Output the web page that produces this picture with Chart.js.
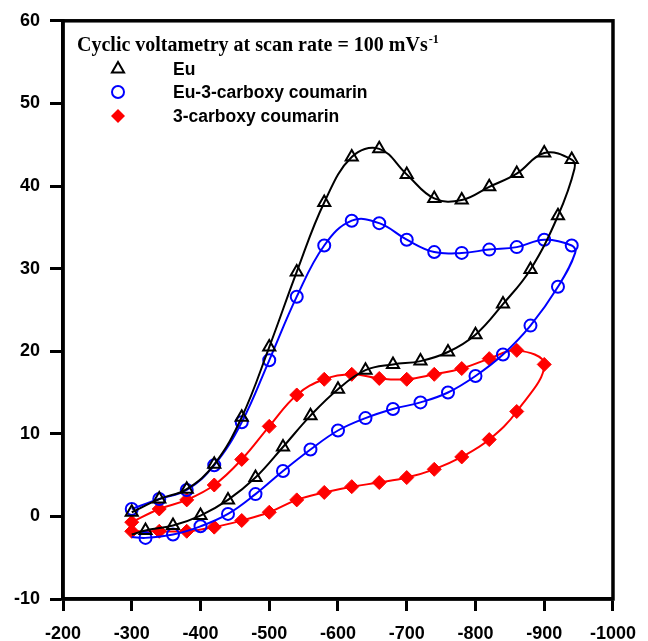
<!DOCTYPE html>
<html>
<head>
<meta charset="utf-8">
<script src="https://cdn.jsdelivr.net/npm/chart.js@4.4.1/dist/chart.umd.min.js"></script>
<style>
  html, body { margin: 0; padding: 0; background: #fff; }
</style>
</head>
<body>
<canvas id="cvChart" width="648" height="641"></canvas>
<script>
// Potential (mV) and current, in scan order
const euPotential = [-300, -340, -380, -420, -460, -500, -540, -580, -620, -660, -700, -740, -780, -820, -860, -900, -940, -944,
                     -920, -880, -840, -800, -760, -720, -680, -640, -600, -560, -520, -480, -440, -400, -360, -320, -300];
const euCurrent = [0.5, 2.1, 3.3, 6.3, 12.0, 20.5, 29.6, 38.0, 43.5, 44.5, 41.4, 38.5, 38.3, 39.9, 41.5, 44.0, 43.2, 42.1,
                   36.4, 29.9, 25.7, 22.0, 19.9, 18.8, 18.4, 17.7, 15.4, 12.2, 8.4, 4.7, 2.0, 0.1, -1.1, -1.7, -2.2];

const euCoumPotential = [-300, -340, -380, -420, -460, -500, -540, -580, -620, -660, -700, -740, -780, -820, -860, -900, -940, -945,
                         -920, -880, -840, -800, -760, -720, -680, -640, -600, -560, -520, -480, -440, -400, -360, -320, -300];
const euCoumCurrent = [0.9, 2.1, 3.2, 6.2, 11.4, 18.9, 26.6, 32.8, 35.8, 35.5, 33.5, 32.0, 31.9, 32.3, 32.6, 33.5, 32.8, 31.9,
                       27.8, 23.1, 19.6, 17.0, 15.0, 13.8, 13.0, 11.9, 10.4, 8.1, 5.5, 2.7, 0.3, -1.2, -2.2, -2.6, -2.5];

const coumPotential = [-300, -340, -380, -420, -460, -500, -540, -580, -620, -660, -700, -740, -780, -820, -860, -900,
                       -860, -820, -780, -740, -700, -660, -620, -580, -540, -500, -460, -420, -380, -340, -300];
const coumCurrent = [-0.7, 0.9, 2.0, 3.8, 6.9, 10.9, 14.7, 16.6, 17.2, 16.7, 16.6, 17.2, 17.9, 19.1, 20.1, 18.4,
                     12.7, 9.3, 7.2, 5.7, 4.7, 4.1, 3.6, 2.9, 2.0, 0.5, -0.5, -1.3, -1.8, -1.8, -1.8];

const seriesNames = ['Eu', 'Eu-3-carboxy coumarin', '3-carboxy coumarin'];
const xTicks = [-200, -300, -400, -500, -600, -700, -800, -900, -1000];
const yTicks = [-10, 0, 10, 20, 30, 40, 50, 60];
const chartTitle = 'Cyclic voltametry at scan rate = 100 mVs';
const titleSup = '-1';

const toPoints = (xs, ys) => xs.map((x, i) => ({ x: x, y: ys[i] }));

const tickFont = { family: '"Liberation Sans", Arial, sans-serif', weight: 'bold', size: 18 };

// Box round the plot
const framePlugin = {
  id: 'frame',
  afterDraw(chart) {
    const { ctx, chartArea: a } = chart;
    ctx.save();
    ctx.strokeStyle = '#000';
    ctx.lineWidth = 3.5;
    ctx.strokeRect(a.left, a.top, a.right - a.left, a.bottom - a.top);
    ctx.restore();
  }
};

// Title and legend drawn inside the plot, top left
const legendPlugin = {
  id: 'innerLegend',
  afterDraw(chart) {
    const ctx = chart.ctx;
    ctx.save();
    ctx.fillStyle = '#000';
    ctx.textBaseline = 'alphabetic';
    ctx.font = 'bold 20px "Liberation Serif", "Times New Roman", serif';
    ctx.fillText(chartTitle, 77, 51);
    const w = ctx.measureText(chartTitle).width;
    ctx.font = 'bold 12px "Liberation Serif", "Times New Roman", serif';
    ctx.fillText(titleSup, 77 + w + 1, 43);

    const rows = [69, 92, 116];
    const mx = 118;
    ctx.lineWidth = 2;
    // triangle
    let r = 7, y = rows[0];
    ctx.strokeStyle = '#000';
    ctx.beginPath();
    ctx.moveTo(mx, y - r);
    ctx.lineTo(mx + r * Math.cos(Math.PI / 6), y + r / 2);
    ctx.lineTo(mx - r * Math.cos(Math.PI / 6), y + r / 2);
    ctx.closePath();
    ctx.stroke();
    // circle
    ctx.strokeStyle = '#0000ff';
    ctx.beginPath();
    ctx.arc(mx, rows[1], 6, 0, Math.PI * 2);
    ctx.stroke();
    // diamond
    r = 7; y = rows[2];
    ctx.fillStyle = '#ff0000';
    ctx.beginPath();
    ctx.moveTo(mx, y - r);
    ctx.lineTo(mx + r, y);
    ctx.lineTo(mx, y + r);
    ctx.lineTo(mx - r, y);
    ctx.closePath();
    ctx.fill();

    ctx.fillStyle = '#000';
    ctx.textBaseline = 'middle';
    ctx.font = 'bold 17.5px "Liberation Sans", Arial, sans-serif';
    seriesNames.forEach((name, i) => ctx.fillText(name, 173, rows[i] + 1));
    ctx.restore();
  }
};

new Chart(document.getElementById('cvChart'), {
  type: 'line',
  data: {
    datasets: [
      {
        label: seriesNames[0],
        data: toPoints(euPotential, euCurrent),
        borderColor: '#000',
        borderWidth: 2,
        pointStyle: 'triangle',
        // loop ends with no marker
        pointRadius: ctx => [17, 34].includes(ctx.dataIndex) ? 0 : 7,
        pointBorderColor: '#000',
        pointBorderWidth: 2,
        pointBackgroundColor: 'rgba(0,0,0,0)'
      },
      {
        label: seriesNames[1],
        data: toPoints(euCoumPotential, euCoumCurrent),
        borderColor: '#0000ff',
        borderWidth: 2,
        pointStyle: 'circle',
        pointRadius: ctx => [17, 34].includes(ctx.dataIndex) ? 0 : 6,
        pointBorderColor: '#0000ff',
        pointBorderWidth: 2,
        pointBackgroundColor: 'rgba(0,0,0,0)'
      },
      {
        label: seriesNames[2],
        data: toPoints(coumPotential, coumCurrent),
        borderColor: '#ff0000',
        borderWidth: 2,
        pointStyle: 'rectRot',
        pointRadius: 7,
        pointBorderColor: '#ff0000',
        pointBorderWidth: 1,
        pointBackgroundColor: '#ff0000'
      }
    ]
  },
  options: {
    responsive: false,
    animation: false,
    layout: { padding: { top: 19, right: 27, left: 0, bottom: 0 } },
    elements: { line: { tension: 0.4 } },
    plugins: {
      legend: { display: false },
      tooltip: { enabled: false }
    },
    scales: {
      x: {
        type: 'linear',
        min: -1000,
        max: -200,
        reverse: true,
        afterBuildTicks: s => { s.ticks = xTicks.map(v => ({ value: v })); },
        afterFit: s => { s.height = 42; },
        ticks: {
          color: '#000',
          font: tickFont,
          padding: 12,
          autoSkip: false,
          maxRotation: 0,
          callback: v => String(v)
        },
        grid: { drawOnChartArea: false, drawTicks: true, tickLength: 12, tickWidth: 3, color: '#000' },
        border: { display: true, width: 3.5, color: '#000' }
      },
      y: {
        type: 'linear',
        min: -10,
        max: 60,
        afterBuildTicks: s => { s.ticks = yTicks.map(v => ({ value: v })); },
        afterFit: s => { s.width = 63; },
        ticks: {
          color: '#000',
          font: tickFont,
          padding: 10,
          autoSkip: false,
          callback: v => String(v)
        },
        grid: { drawOnChartArea: false, drawTicks: true, tickLength: 13, tickWidth: 3, color: '#000' },
        border: { display: true, width: 3.5, color: '#000' }
      }
    }
  },
  plugins: [framePlugin, legendPlugin]
});
</script>
</body>
</html>
